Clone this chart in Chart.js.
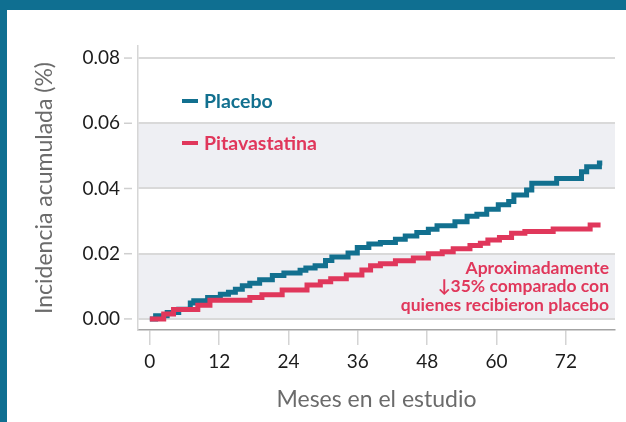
<!DOCTYPE html>
<html>
<head>
<meta charset="utf-8">
<script src="https://cdn.jsdelivr.net/npm/chart.js@4"></script>
<style>
  html, body { margin: 0; padding: 0; background: #fff; }
  #wrap {
    position: absolute; left: 0; top: 0;
    width: 619px; height: 412px;
    border-top: 10px solid #0f6f91;
    border-left: 7px solid #0f6f91;
  }
  canvas { display: block; }
</style>
</head>
<body>
<div id="wrap"><canvas id="chart" width="619" height="412"></canvas></div>
<script>
// months / cumulative incidence
const placeboMonths = [0, 1, 3, 5, 7, 7.6, 10, 12.2, 13.6, 14.8, 16, 17.3, 19, 21.2, 23.2, 26, 27, 28.6, 30.4, 31.5, 34.3, 35.9, 37.9, 39.9, 42.5, 44.2, 46.2, 48.2, 49.7, 52.8, 54.9, 56.6, 58.3, 60.3, 62.1, 63, 65.2, 66.1, 70.4, 74.7, 75.6, 77.8, 78.3];
const placeboValues = [0, 0.001, 0.002, 0.003, 0.0049, 0.0056, 0.0066, 0.0076, 0.0082, 0.0091, 0.0102, 0.0109, 0.012, 0.0133, 0.0141, 0.0149, 0.0156, 0.0163, 0.0179, 0.019, 0.0202, 0.0219, 0.023, 0.0234, 0.0244, 0.0254, 0.0265, 0.0275, 0.0286, 0.0298, 0.0315, 0.0321, 0.0336, 0.035, 0.036, 0.038, 0.0395, 0.0416, 0.0431, 0.0451, 0.0467, 0.0478, 0.0478];

const pitaMonths = [0, 2.4, 4.1, 8.3, 10.4, 17.3, 19.4, 22.9, 27.2, 29.5, 31.3, 34, 36.7, 38.2, 39.9, 42.5, 45.6, 48.2, 50.6, 52.5, 55.4, 57.2, 58.5, 60.5, 62.6, 64.9, 69.8, 76.2, 78];
const pitaValues = [0, 0.0015, 0.0029, 0.0042, 0.0057, 0.0066, 0.0074, 0.0089, 0.0104, 0.0114, 0.0123, 0.0135, 0.015, 0.0163, 0.0169, 0.0178, 0.0187, 0.02, 0.0206, 0.0215, 0.0225, 0.0232, 0.0242, 0.025, 0.0263, 0.0268, 0.0276, 0.0288, 0.0288];

const xTicks = [0, 12, 24, 36, 48, 60, 72];
const yTicks = [0, 0.02, 0.04, 0.06, 0.08];
const bands = [[0, 0.02], [0.04, 0.06]];

const blue = '#12708f';
const red = '#e0375b';
const font = 'Lato, "Noto Sans", sans-serif';

const toPoints = (xs, ys) => xs.map((m, i) => ({ x: m, y: ys[i] }));

const bandPlugin = {
  id: 'bands',
  beforeDraw(chart) {
    const { ctx, chartArea, scales: { y } } = chart;
    ctx.save();
    ctx.fillStyle = '#eeeff3';
    bands.forEach(([a, b]) => {
      const y1 = y.getPixelForValue(b), y2 = y.getPixelForValue(a);
      ctx.fillRect(chartArea.left, y1, chartArea.right - chartArea.left, y2 - y1);
    });
    ctx.restore();
  },
  afterDraw(chart) {
    // small y tick marks, set off from the axis
    const { ctx, chartArea, scales: { y } } = chart;
    ctx.save();
    ctx.strokeStyle = '#cfcfcf';
    ctx.lineWidth = 1.5;
    yTicks.forEach(v => {
      const py = y.getPixelForValue(v);
      ctx.beginPath();
      ctx.moveTo(chartArea.left - 14, py);
      ctx.lineTo(chartArea.left - 6, py);
      ctx.stroke();
    });
    ctx.restore();
  }
};

const labelPlugin = {
  id: 'labels',
  afterDatasetsDraw(chart) {
    const { ctx, chartArea } = chart;
    ctx.save();
    // legend
    const items = [chart.data.datasets[0], chart.data.datasets[1]];
    items.forEach((ds, i) => {
      const ly = chartArea.top + 55 + i * 42;
      const lx = chartArea.left + 44;
      ctx.strokeStyle = ds.borderColor;
      ctx.lineWidth = 4;
      ctx.beginPath();
      ctx.moveTo(lx, ly);
      ctx.lineTo(lx + 16, ly);
      ctx.stroke();
      ctx.fillStyle = ds.borderColor;
      ctx.font = 'bold 19.5px ' + font;
      ctx.textBaseline = 'middle';
      ctx.textAlign = 'left';
      ctx.fillText(ds.label, lx + 22, ly + 1);
    });
    // note
    ctx.fillStyle = red;
    ctx.font = 'bold 17.5px ' + font;
    ctx.textAlign = 'right';
    ctx.textBaseline = 'middle';
    const note = ['Aproximadamente', '↓35% comparado con', 'quienes recibieron placebo'];
    note.forEach((t, i) => {
      ctx.fillText(t, chartArea.right - 6, chartArea.bottom - 62 + i * 18.5);
    });
    ctx.restore();
  }
};

new Chart(document.getElementById('chart'), {
  type: 'line',
  data: {
    datasets: [
      {
        label: 'Placebo',
        data: toPoints(placeboMonths, placeboValues),
        borderColor: blue,
        borderWidth: 5,
        stepped: true,
        pointRadius: 0,
        fill: false,
        order: 2
      },
      {
        label: 'Pitavastatina',
        data: toPoints(pitaMonths, pitaValues),
        borderColor: red,
        borderWidth: 5,
        stepped: true,
        pointRadius: 0,
        fill: false,
        order: 1
      }
    ]
  },
  options: {
    responsive: false,
    animation: false,
    layout: { padding: { top: 36, right: 11, left: 0, bottom: 0 } },
    plugins: { legend: { display: false }, tooltip: { enabled: false } },
    scales: {
      x: {
        type: 'linear',
        min: -2.05,
        max: 80.5,
        afterBuildTicks: s => { s.ticks = xTicks.map(v => ({ value: v })); },
        afterFit: s => { s.height = 92; },
        grid: { drawOnChartArea: false, drawTicks: true, tickLength: 15, color: '#d4d4d4', lineWidth: 1.5 },
        border: { color: '#a3a3a3', width: 1.5 },
        ticks: { color: '#1c1c1c', font: { family: font, size: 19 }, padding: 5, maxRotation: 0 },
        title: { display: true, text: 'Meses en el estudio', color: '#6b6b6b', font: { family: font, size: 23 }, padding: { top: 0, bottom: 9 } }
      },
      y: {
        min: -0.0034,
        max: 0.0837,
        afterBuildTicks: s => { s.ticks = yTicks.map(v => ({ value: v })); },
        afterFit: s => { s.width = 131; },
        grid: { drawTicks: false, color: '#d9d9d9', lineWidth: 2 },
        border: { color: '#d6d6d6', width: 1.5 },
        ticks: { color: '#1c1c1c', font: { family: font, size: 19 }, padding: 18, callback: v => v.toFixed(2) },
        title: { display: true, text: 'Incidencia acumulada (%)', color: '#6b6b6b', font: { family: font, size: 23 }, padding: { top: 24, bottom: 0 } }
      }
    }
  },
  plugins: [bandPlugin, labelPlugin]
});
</script>
</body>
</html>
